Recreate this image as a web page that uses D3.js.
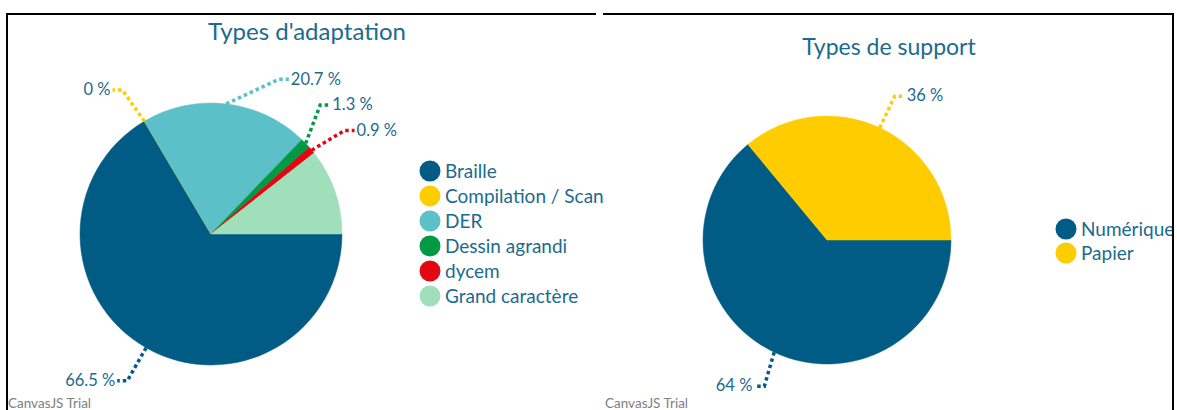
<!DOCTYPE html>
<html>
<head>
<meta charset="utf-8">
<script src="https://cdn.jsdelivr.net/npm/d3@7"></script>
<style>
  body { margin: 0; background: #fff; }
  svg { display: block; font-family: Lato, "Open Sans", sans-serif; }
</style>
</head>
<body>
<div id="chart"></div>
<script>
// données
var adaptNames = ["Braille", "Compilation / Scan", "DER", "Dessin agrandi", "dycem", "Grand caractère"];
var adaptValues = [66.5, 0, 20.7, 1.3, 0.9, 10.6];
var adaptLabels = ["66.5 %", "0 %", "20.7 %", "1.3 %", "0.9 %", ""];
var adaptColors = ["#005c85", "#ffcc00", "#5bc0c8", "#009a44", "#e30613", "#9fe0bb"];

var supportNames = ["Numérique", "Papier"];
var supportValues = [64, 36];
var supportLabels = ["64 %", "36 %"];
var supportColors = ["#005c85", "#ffcc00"];

var textColor = "#1c6b8e";
var width = 1177, height = 410;

var svg = d3.select("#chart").append("svg")
    .attr("width", width)
    .attr("height", height);

svg.append("defs").append("clipPath")
    .attr("id", "clipRight")
    .append("rect")
    .attr("x", 0).attr("y", 0)
    .attr("width", 1172).attr("height", height);

// cadres
svg.append("path")
    .attr("d", "M7,410 V14 H596")
    .attr("fill", "none").attr("stroke", "#000").attr("stroke-width", 2);
svg.append("path")
    .attr("d", "M603,14 H1173 V410")
    .attr("fill", "none").attr("stroke", "#000").attr("stroke-width", 2);

function drawPie(opt) {
    var g = svg.append("g").attr("clip-path", "url(#clipRight)");

    g.append("text")
        .attr("x", opt.titleX).attr("y", opt.titleY)
        .attr("text-anchor", "middle")
        .attr("font-size", opt.titleSize)
        .attr("fill", textColor)
        .text(opt.title);

    // canvasjs commence a 3h, sens horaire
    var pie = d3.pie().sort(null)
        .startAngle(Math.PI / 2)
        .endAngle(Math.PI / 2 + 2 * Math.PI);
    var arcs = pie(opt.values);
    var arc = d3.arc().innerRadius(0).outerRadius(opt.r);

    var pg = g.append("g").attr("transform", "translate(" + opt.cx + "," + opt.cy + ")");

    pg.selectAll("path.slice")
        .data(arcs)
        .enter().append("path")
        .attr("class", "slice")
        .attr("d", arc)
        .attr("fill", function (d, i) { return opt.colors[i]; })
        .attr("stroke", function (d, i) { return opt.colors[i]; })
        .attr("stroke-width", 0.5);

    // etiquettes + connecteurs pointilles
    arcs.forEach(function (d, i) {
        var txt = opt.labels[i];
        if (!txt) return;
        var a = (d.startAngle + d.endAngle) / 2 + (opt.nudge[i] || 0) * Math.PI / 180;
        var a0 = (d.startAngle + d.endAngle) / 2;
        var p0 = [Math.sin(a0) * opt.r, -Math.cos(a0) * opt.r];
        var p1 = [Math.sin(a) * (opt.r + opt.out), -Math.cos(a) * (opt.r + opt.out)];
        var side = Math.sin(a) >= 0 ? 1 : -1;
        var p2 = [p1[0] + side * 10, p1[1]];

        pg.append("path")
            .attr("d", d3.line()([p0, p1, p2]))
            .attr("fill", "none")
            .attr("stroke", opt.colors[i])
            .attr("stroke-width", 3.5)
            .attr("stroke-dasharray", "3.5,3");

        pg.append("text")
            .attr("x", p2[0] + side * 2)
            .attr("y", p2[1])
            .attr("dy", "0.32em")
            .attr("text-anchor", side > 0 ? "start" : "end")
            .attr("font-size", 16.5)
            .attr("fill", textColor)
            .text(txt);
    });

    // legende
    var lg = g.append("g");
    var items = lg.selectAll("g.item")
        .data(opt.names)
        .enter().append("g")
        .attr("class", "item")
        .attr("transform", function (d, i) {
            return "translate(" + opt.legX + "," + (opt.legY + i * opt.legStep) + ")";
        });
    items.append("circle")
        .attr("r", 10.5)
        .attr("fill", function (d, i) { return opt.colors[i]; });
    items.append("text")
        .attr("x", 15)
        .attr("dy", "0.36em")
        .attr("font-size", 19)
        .attr("fill", textColor)
        .text(function (d) { return d; });

    g.append("text")
        .attr("x", opt.wmX).attr("y", 408)
        .attr("font-size", 13.5)
        .attr("fill", "#808080")
        .text("CanvasJS Trial");
}

drawPie({
    title: "Types d'adaptation", titleX: 307, titleY: 40, titleSize: 24,
    names: adaptNames, values: adaptValues, labels: adaptLabels, colors: adaptColors,
    nudge: [0, -1, 17, -6, 2, 0],
    cx: 211, cy: 234, r: 131, out: 38,
    legX: 430, legY: 171, legStep: 25,
    wmX: 8
});

drawPie({
    title: "Types de support", titleX: 889, titleY: 55, titleSize: 23,
    names: supportNames, values: supportValues, labels: supportLabels, colors: supportColors,
    nudge: [-2, 0],
    cx: 827, cy: 240, r: 124, out: 35,
    legX: 1066, legY: 229, legStep: 24,
    wmX: 605
});
</script>
</body>
</html>
